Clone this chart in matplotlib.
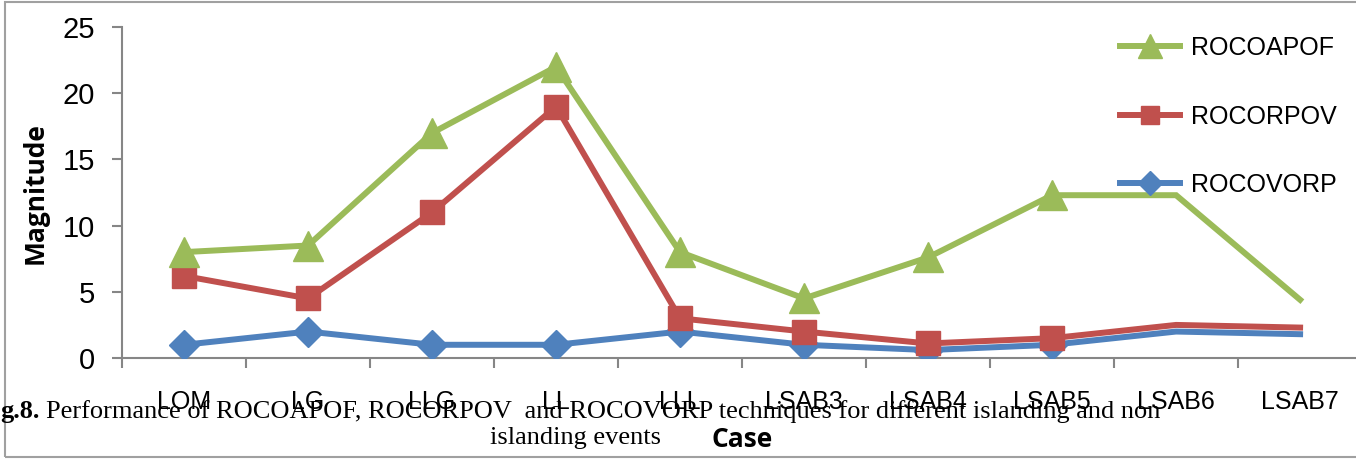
import matplotlib
matplotlib.use("Agg")
import matplotlib.pyplot as plt
from matplotlib.lines import Line2D
from matplotlib.patches import Rectangle

cases = ["LOM", "LG", "LLG", "LL", "LLL", "LSAB3", "LSAB4", "LSAB5", "LSAB6", "LSAB7"]
rocoapof = [8.0, 8.5, 17.0, 22.0, 8.0, 4.5, 7.6, 12.3, 12.3, 4.4]
rocorpov = [6.2, 4.5, 11.0, 19.0, 3.0, 2.0, 1.1, 1.5, 2.5, 2.3]
rocovorp = [1.0, 2.0, 1.0, 1.0, 2.0, 1.0, 0.6, 1.0, 2.0, 1.8]
n_marked = 8  # markers only on first 8 cases

GREEN = "#9BBB59"
RED = "#C0504D"
BLUE = "#4F81BD"
GRAY = "#868686"
NARROW = ["Liberation Sans Narrow", "Liberation Sans"]

fig = plt.figure(figsize=(13.56, 4.59), dpi=100)
ax = fig.add_axes([0.090, 0.220, 0.9145, 0.721])

x = list(range(len(cases)))
series = [
    ("ROCOVORP", rocovorp, BLUE, "D", 15),
    ("ROCORPOV", rocorpov, RED, "s", 17),
    ("ROCOAPOF", rocoapof, GREEN, "^", 21),
]
handles = {}
for z, (name, vals, col, mk, ms) in enumerate(series):
    ax.plot(x, vals, color=col, lw=4.3, zorder=3 + z, solid_joinstyle="miter")
    ax.plot(x[:n_marked], vals[:n_marked], ls="none", marker=mk, ms=ms,
            color=col, zorder=3 + z)
    handles[name] = Line2D([], [], color=col, lw=4.3, marker=mk, ms=ms * 0.8)

ax.set_xlim(-0.5, len(cases) - 0.5)
ax.set_ylim(0, 25)
ax.set_yticks([0, 5, 10, 15, 20, 25])
ax.set_xticks(x)
ax.set_xticks([i - 0.5 for i in range(len(cases) + 1)], minor=True)
ax.set_xticklabels(cases, family=NARROW, fontsize=18)
for lab in ax.get_yticklabels():
    lab.set_family("Liberation Sans")
    lab.set_fontsize(21)

ax.tick_params(axis="x", which="major", length=0, pad=23)
ax.tick_params(axis="x", which="minor", length=7.2, width=1.5, color=GRAY, direction="out")
ax.tick_params(axis="y", length=7.2, width=1.5, color=GRAY, direction="out", pad=12)
for s in ["top", "right"]:
    ax.spines[s].set_visible(False)
for s in ["left", "bottom"]:
    ax.spines[s].set_color(GRAY)
    ax.spines[s].set_linewidth(1.5)

order = ["ROCOAPOF", "ROCORPOV", "ROCOVORP"]
ax.legend([handles[k] for k in order], order, loc="upper left",
          bbox_to_anchor=(1120 / 1356, 1 - 36 / 459), bbox_transform=fig.transFigure,
          frameon=False, numpoints=1, handlelength=2.4, handletextpad=0.45,
          labelspacing=1.78, borderpad=0, borderaxespad=0,
          prop={"family": NARROW, "size": 18})

fig.text(35 / 1356, 1 - 193 / 459, "Magnitude", rotation=90, ha="center", va="center",
         family="Open Sans", weight="bold", fontsize=19)
fig.text(742 / 1356, 1 - 447 / 459, "Case", ha="center", va="baseline",
         family="Open Sans", weight="bold", fontsize=19)

# caption overlapping the chart, as in the source image
fig.text(0, 1 - 418 / 459, "g.8.", ha="left", va="baseline",
         family="Liberation Serif", weight="bold", fontsize=19)
fig.text(46 / 1356, 1 - 418 / 459,
         "Performance of ROCOAPOF, ROCORPOV  and ROCOVORP techniques for different islanding and non",
         ha="left", va="baseline", family="Liberation Serif", fontsize=19)
fig.text(575 / 1356, 1 - 444 / 459, "islanding events", ha="center", va="baseline",
         family="Liberation Serif", fontsize=19)

fig.patches.append(Rectangle((5 / 1356, 2 / 459), 1.1, 455 / 459, transform=fig.transFigure,
                             fill=False, edgecolor="#A0A0A0", lw=1.5, clip_on=False))

fig.savefig("out.png", dpi=100)
